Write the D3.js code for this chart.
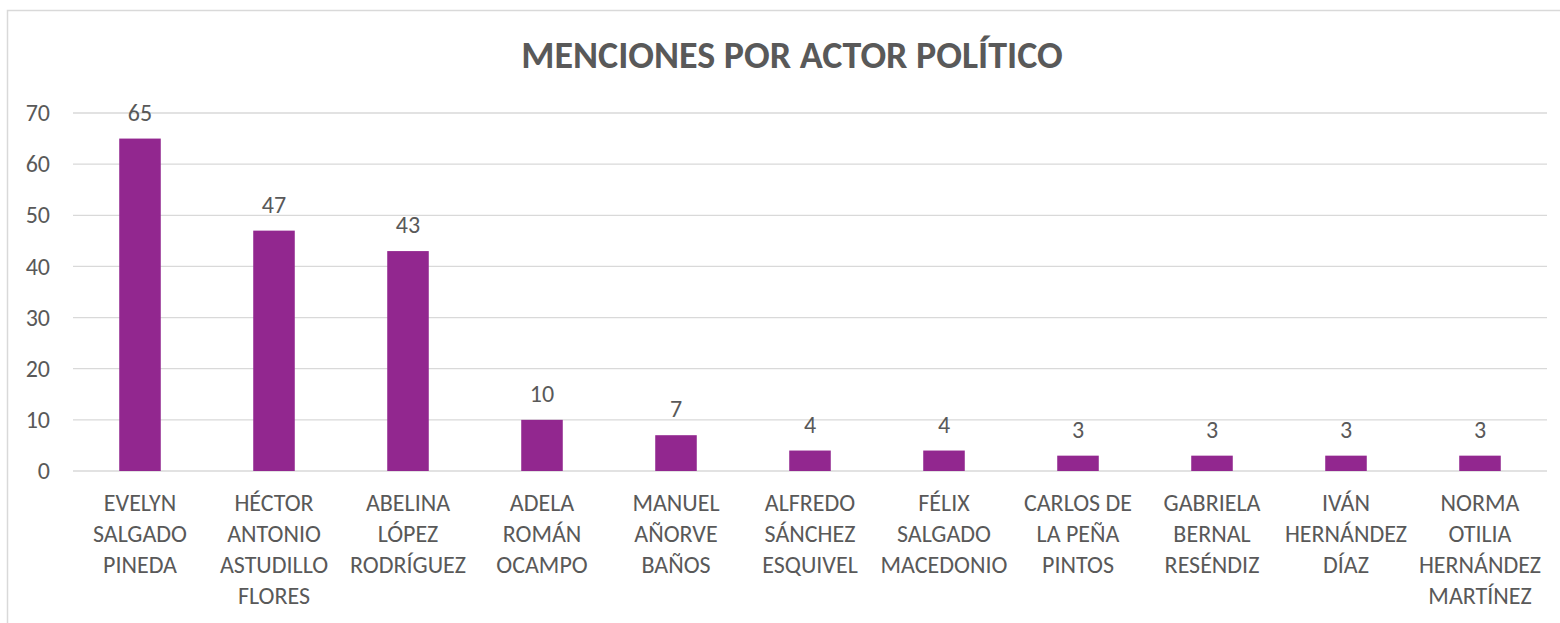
<!DOCTYPE html>
<html>
<head>
<meta charset="utf-8">
<script src="https://cdn.jsdelivr.net/npm/d3@7"></script>
<style>
  body { margin: 0; background: #fff; }
  text { font-family: Carlito, Lato, "Open Sans", sans-serif; fill: #595959; }
</style>
</head>
<body>
<script>
let width = 1560,
    height = 623;

let actores = [
  ["EVELYN", "SALGADO", "PINEDA"],
  ["HÉCTOR", "ANTONIO", "ASTUDILLO", "FLORES"],
  ["ABELINA", "LÓPEZ", "RODRÍGUEZ"],
  ["ADELA", "ROMÁN", "OCAMPO"],
  ["MANUEL", "AÑORVE", "BAÑOS"],
  ["ALFREDO", "SÁNCHEZ", "ESQUIVEL"],
  ["FÉLIX", "SALGADO", "MACEDONIO"],
  ["CARLOS DE", "LA PEÑA", "PINTOS"],
  ["GABRIELA", "BERNAL", "RESÉNDIZ"],
  ["IVÁN", "HERNÁNDEZ", "DÍAZ"],
  ["NORMA", "OTILIA", "HERNÁNDEZ", "MARTÍNEZ"]
];
let menciones = [65, 47, 43, 10, 7, 4, 4, 3, 3, 3, 3];
let yTicks = [0, 10, 20, 30, 40, 50, 60, 70];

let svg = d3.select("body")
            .append("svg")
            .attr("width", width)
            .attr("height", height);

// chart border (right and bottom fall outside the picture)
svg.append("rect")
   .attr("x", 7.5).attr("y", 10.5)
   .attr("width", 1600).attr("height", 700)
   .attr("fill", "none")
   .attr("stroke", "#d9d9d9")
   .attr("stroke-width", 1.5);

svg.append("text")
   .attr("x", 792)
   .attr("y", 68)
   .attr("text-anchor", "middle")
   .style("font-size", "38px")
   .style("font-weight", "bold")
   .text("MENCIONES POR ACTOR POLÍTICO");

let xScale = d3.scaleBand()
               .domain(d3.range(menciones.length))
               .range([73, 1547])
               .paddingInner(0.69)
               .paddingOuter(0.345);

let yScale = d3.scaleLinear()
               .domain([0, 70])
               .range([471, 113]);

// grid lines
svg.append("g")
   .selectAll("line")
   .data(yTicks)
   .enter()
   .append("line")
   .attr("x1", 73)
   .attr("x2", 1547)
   .attr("y1", d => yScale(d))
   .attr("y2", d => yScale(d))
   .attr("stroke", "#d9d9d9")
   .attr("stroke-width", 1.3);

// y axis labels
let yAxis = d3.axisLeft(yScale).tickValues(yTicks).tickSize(0).tickPadding(0);
let yg = svg.append("g")
   .attr("transform", "translate(50,0)")
   .call(yAxis);
yg.select(".domain").remove();
yg.selectAll("text")
  .style("font-size", "24px")
  .attr("font-family", null)
  .attr("fill", null);

// bars
svg.append("g")
   .selectAll("rect")
   .data(menciones)
   .enter()
   .append("rect")
   .attr("x", (d, i) => xScale(i))
   .attr("y", d => yScale(d))
   .attr("width", xScale.bandwidth())
   .attr("height", d => yScale(0) - yScale(d))
   .attr("fill", "#92278f");

// value labels
svg.append("g")
   .selectAll("text")
   .data(menciones)
   .enter()
   .append("text")
   .attr("x", (d, i) => xScale(i) + xScale.bandwidth() / 2)
   .attr("y", d => yScale(d) - 18)
   .attr("text-anchor", "middle")
   .style("font-size", "24px")
   .text(d => d);

// category labels
let cats = svg.append("g")
   .selectAll("text")
   .data(actores)
   .enter()
   .append("text")
   .attr("text-anchor", "middle")
   .style("font-size", "24px")
   .attr("x", (d, i) => xScale(i) + xScale.bandwidth() / 2)
   .attr("y", 511);

cats.selectAll("tspan")
    .data(d => d)
    .enter()
    .append("tspan")
    .attr("x", function() { return d3.select(this.parentNode).attr("x"); })
    .attr("dy", (d, i) => i === 0 ? 0 : 31)
    .text(d => d);
</script>
</body>
</html>
